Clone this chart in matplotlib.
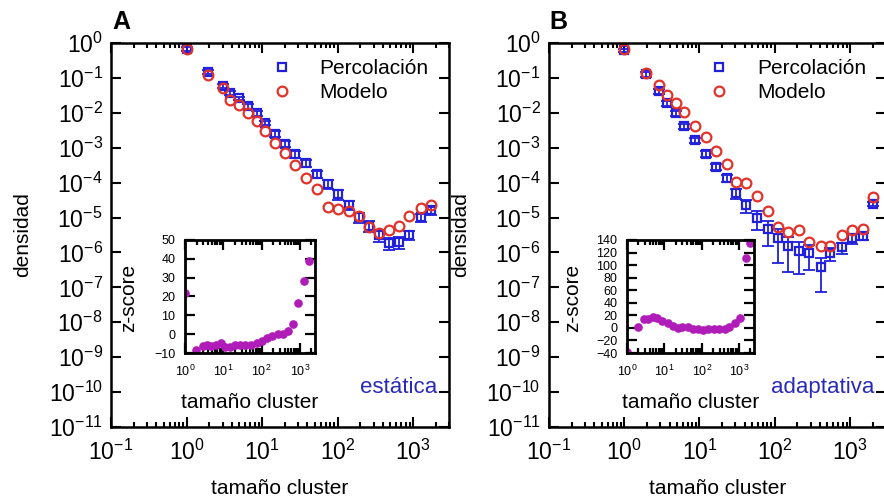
import numpy as np
import matplotlib
matplotlib.use('Agg')
import matplotlib.pyplot as plt
from matplotlib.ticker import LogLocator, NullLocator, NullFormatter, LogFormatterMathtext, MultipleLocator

plt.rcParams['font.family'] = ['Liberation Sans', 'DejaVu Sans']
plt.rcParams['mathtext.fontset'] = 'custom'
plt.rcParams['mathtext.rm'] = 'Liberation Sans'
plt.rcParams['mathtext.it'] = 'Liberation Sans:italic'
plt.rcParams['mathtext.bf'] = 'Liberation Sans:bold'

# datos (densidad en log10)
size_a = [1, 1.9, 3, 3.8, 4.9, 6.5, 8.5, 11, 15, 20, 27, 38, 54, 74, 102, 141, 191, 263, 355, 479, 661, 891, 1288, 1738]
log_perc_a = [-0.17, -0.83, -1.23, -1.43, -1.58, -1.81, -2.01, -2.29, -2.61, -2.89, -3.18, -3.44, -3.75, -4.04,
              -4.33, -4.64, -4.99, -5.24, -5.50, -5.73, -5.70, -5.50, -4.99, -4.79]
log_model_a = [-0.17, -0.92, -1.29, -1.63, -1.78, -2.01, -2.23, -2.52, -2.87, -3.15, -3.50, -3.87, -4.18, -4.70,
               -4.76, -4.81, -4.96, -5.27, -5.44, -5.36, -5.24, -4.96, -4.73, -4.64]
relerr_a = [0.1, 0.15, 0.1, 0.1, 0.1, 0.15, 0.15, 0.15, 0.2, 0.2, 0.25, 0.25, 0.25, 0.3, 0.3, 0.3, 0.3, 0.35,
            0.35, 0.35, 0.35, 0.3, 0.25, 0.25]
zscore_a = [21.6, -8.4, -6.4, -6.0, -6.4, -6.0, -4.9, -6.7, -6.7, -6.0, -6.0, -6.0, -5.6, -4.9, -3.8, -2.0,
            -0.8, 0.1, 0.3, 1.5, 5.3, 16.3, 28.4, 38.8]

size_b = [1, 1.95, 2.9, 3.7, 4.9, 6.2, 8.7, 12.3, 16.6, 22.9, 30.2, 41.7, 57.5, 81.3, 110, 148, 209, 288, 407,
          550, 776, 1047, 1479, 1995]
log_perc_b = [-0.20, -0.89, -1.38, -1.72, -2.01, -2.38, -2.78, -3.18, -3.55, -3.87, -4.30, -4.64, -5.01, -5.33,
              -5.59, -5.82, -5.96, -6.02, -6.42, -6.02, -5.85, -5.59, -5.53, -4.61]
log_model_b = [-0.17, -0.86, -1.20, -1.49, -1.72, -1.98, -2.38, -2.69, -3.09, -3.47, -3.98, -4.01, -4.38, -4.81,
               -5.27, -5.42, -5.36, -5.70, -5.82, -5.82, -5.50, -5.36, -5.33, -4.41]
relerr_b = [0.1, 0.15, 0.15, 0.15, 0.15, 0.15, 0.15, 0.2, 0.2, 0.25, 0.3, 0.4, 0.54, 0.67, 0.8, 0.82, 0.78,
            0.67, 0.8, 0.4, 0.35, 0.3, 0.25, 0.15]
zscore_b = [-38, 2, 13.7, 13.7, 16.8, 15, 11.6, 7.4, 3.6, 0.4, 2.0, 1.0, -1.8, -2.3, -3.4, -2.3, -1.8, -2.3,
            -1.8, 1.9, 7.3, 15.3, 110.8, 134.7]

blue = '#2020dd'
red = '#e2332a'
purple = '#b01cb8'
textblue = '#2a2ab8'

fig = plt.figure(figsize=(8.84, 5.03), dpi=100)


def main_panel(rect, size, log_perc, log_model, relerr, tag, letter):
    ax = fig.add_axes(rect)
    perc = 10.0 ** np.array(log_perc)
    model = 10.0 ** np.array(log_model)
    err = perc * np.array(relerr)
    ax.errorbar(size, perc, yerr=err, fmt='none', ecolor=blue, elinewidth=1.3, capsize=4.3, capthick=1.3)
    ax.plot(size, perc, 's', mfc='none', mec=blue, ms=6, mew=1.6, label='Percolación')
    ax.plot(size, model, 'o', mfc='none', mec=red, ms=7, mew=1.6, label='Modelo')
    ax.set_xscale('log')
    ax.set_yscale('log')
    ax.set_xlim(0.1, 3000)
    ax.set_ylim(1e-11, 1)
    ax.set_yticks(10.0 ** np.arange(-11, 1))
    ax.yaxis.set_minor_locator(NullLocator())
    ax.yaxis.set_major_formatter(LogFormatterMathtext())
    ax.xaxis.set_major_locator(LogLocator(base=10, numticks=20))
    ax.xaxis.set_minor_locator(LogLocator(base=10, subs=np.arange(2, 10), numticks=20))
    ax.xaxis.set_minor_formatter(NullFormatter())
    ax.tick_params(which='both', direction='in', top=True, right=True, width=1.5)
    ax.tick_params(which='major', length=7, labelsize=16.5)
    ax.tick_params(which='minor', length=3.5)
    ax.tick_params(axis='y', pad=6)
    ax.tick_params(axis='x', pad=9)
    for s in ax.spines.values():
        s.set_linewidth(1.8)
    ax.set_xlabel('tamaño cluster', fontsize=15)
    ax.set_ylabel('densidad', fontsize=15)
    ax.xaxis.set_label_coords(0.5, -0.159)
    ax.xaxis.label.set_va('center')
    ax.yaxis.set_label_coords(-0.262, 0.5)
    ax.yaxis.label.set_va('center')
    ax.legend(loc='upper left', bbox_to_anchor=(0.475, 0.958), frameon=False, fontsize=15,
              handlelength=1.0, handletextpad=1.3, labelspacing=0.25, borderpad=0, borderaxespad=0)
    ax.text(0.966, 0.102, tag, transform=ax.transAxes, ha='right', va='center', fontsize=16, color=textblue)
    fig.text(rect[0] + 0.001, 0.957, letter, fontsize=18, fontweight='bold', ha='left', va='center')
    return ax


def inset_panel(rect, size, z, ylim, step):
    ins = fig.add_axes(rect)
    ins.set_facecolor('white')
    ins.plot(size, z, 'o', color=purple, ms=5.2, mec=purple)
    ins.set_xscale('log')
    ins.set_xlim(1, 2500)
    ins.set_ylim(*ylim)
    ins.yaxis.set_major_locator(MultipleLocator(step))
    ins.xaxis.set_major_locator(LogLocator(base=10, numticks=10))
    ins.xaxis.set_minor_locator(LogLocator(base=10, subs=np.arange(2, 10), numticks=10))
    ins.xaxis.set_minor_formatter(NullFormatter())
    ins.xaxis.set_major_formatter(LogFormatterMathtext())
    ins.tick_params(which='both', direction='in', top=True, right=True, width=1.6)
    ins.tick_params(which='major', length=7, labelsize=9)
    ins.tick_params(which='minor', length=3.5)
    ins.tick_params(axis='y', pad=7)
    ins.tick_params(axis='x', pad=8)
    for s in ins.spines.values():
        s.set_linewidth(2)
    ins.set_xlabel('tamaño cluster', fontsize=15)
    ins.set_ylabel('z-score', fontsize=15)
    ins.xaxis.set_label_coords(0.5, -0.44)
    ins.xaxis.label.set_va('center')
    ins.yaxis.set_label_coords(-0.43, 0.49)
    ins.yaxis.label.set_va('center')
    return ins


main_panel([0.1256, 0.1511, 0.3824, 0.7634], size_a, log_perc_a, log_model_a, relerr_a, 'estática', 'A')
main_panel([0.6210, 0.1511, 0.3812, 0.7634], size_b, log_perc_b, log_model_b, relerr_b, 'adaptativa', 'B')
inset_panel([0.2093, 0.2982, 0.1471, 0.2247], size_a, zscore_a, (-10, 50), 10)
inset_panel([0.7093, 0.2982, 0.1437, 0.2247], size_b, zscore_b, (-40, 140), 20)

fig.savefig('out.png', dpi=100)
